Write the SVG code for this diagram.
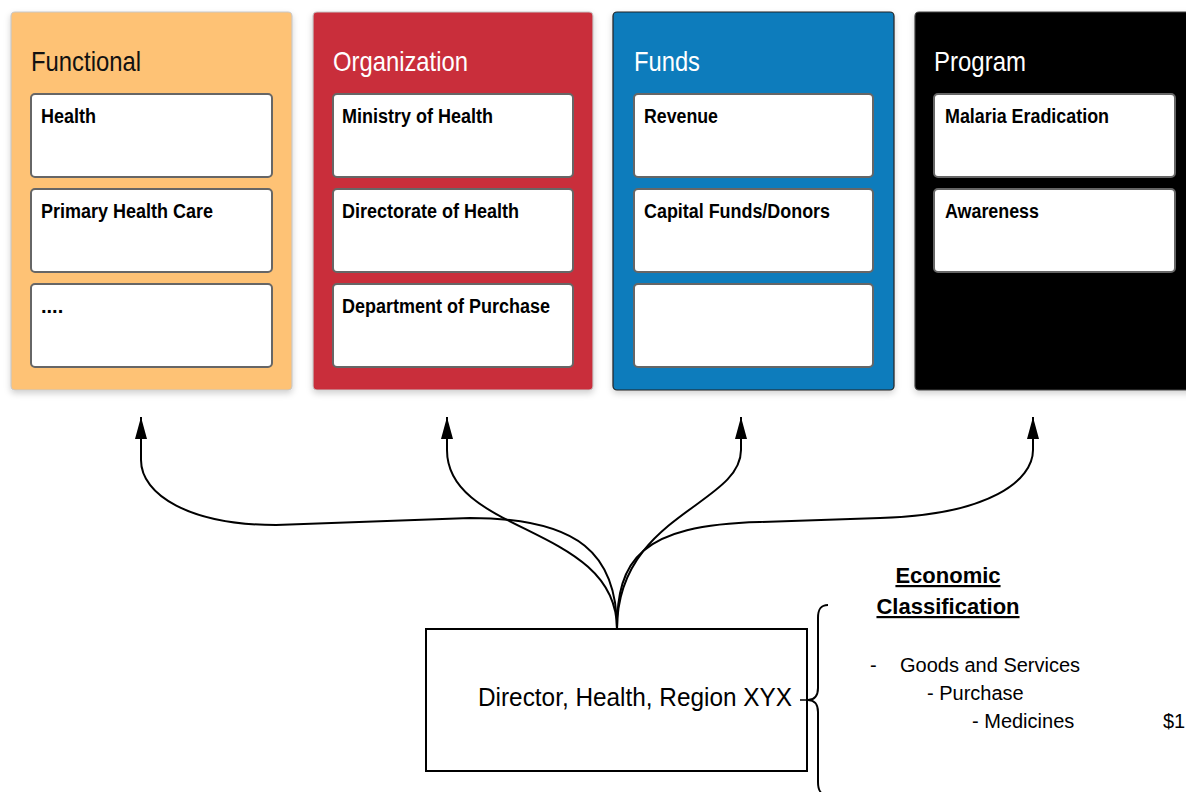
<svg xmlns="http://www.w3.org/2000/svg" width="1186" height="792" viewBox="0 0 1186 792">
<defs>
<style>
.panel{stroke-width:1.2}
.title{font-family:"Liberation Sans",Arial,sans-serif;font-size:28px}
.card{fill:#fff;stroke:#666;stroke-width:2}
.lbl{font-family:"Liberation Sans",Arial,sans-serif;font-size:20px;font-weight:bold;fill:#000}
.conn{fill:none;stroke:#000;stroke-width:2}
.txt{font-family:"Liberation Sans",Arial,sans-serif;font-size:20px;fill:#000}
</style>
<filter id="sh" x="-10%" y="-10%" width="120%" height="120%">
<feDropShadow dx="0" dy="3" stdDeviation="3" flood-color="#000" flood-opacity="0.18"/>
</filter>
<marker id="arr" viewBox="0 0 22 12" refX="22" refY="6" markerWidth="22" markerHeight="12" markerUnits="userSpaceOnUse" orient="auto">
<path d="M0,0 L22,6 L0,12 z" fill="#000"/>
</marker>
</defs>
<rect width="1186" height="792" fill="#fff"/>

<g id="functional">
<rect class="panel" x="11" y="12" width="281" height="378" rx="4" fill="#FEC274" stroke="#c8c8c8" filter="url(#sh)"/>
<text class="title" x="31" y="71" fill="#111" textLength="110" lengthAdjust="spacingAndGlyphs">Functional</text>
<rect class="card" x="31" y="94" width="241" height="83" rx="4"/>
<text class="lbl" x="41" y="123" textLength="55" lengthAdjust="spacingAndGlyphs">Health</text>
<rect class="card" x="31" y="189" width="241" height="83" rx="4"/>
<text class="lbl" x="41" y="218" textLength="172" lengthAdjust="spacingAndGlyphs">Primary Health Care</text>
<rect class="card" x="31" y="284" width="241" height="83" rx="4"/>
<text class="lbl" x="41" y="313">....</text>
</g>

<g id="organization">
<rect class="panel" x="313" y="12" width="280" height="378" rx="4" fill="#C92D3B" stroke="#c8c8c8" filter="url(#sh)"/>
<text class="title" x="333" y="71" fill="#fff" textLength="135" lengthAdjust="spacingAndGlyphs">Organization</text>
<rect class="card" x="333" y="94" width="240" height="83" rx="4"/>
<text class="lbl" x="342" y="123" textLength="151" lengthAdjust="spacingAndGlyphs">Ministry of Health</text>
<rect class="card" x="333" y="189" width="240" height="83" rx="4"/>
<text class="lbl" x="342" y="218" textLength="177" lengthAdjust="spacingAndGlyphs">Directorate of Health</text>
<rect class="card" x="333" y="284" width="240" height="83" rx="4"/>
<text class="lbl" x="342" y="313" textLength="208" lengthAdjust="spacingAndGlyphs">Department of Purchase</text>
</g>

<g id="funds">
<rect class="panel" x="613" y="12" width="281" height="378" rx="4" fill="#107CBC" stroke="#222" filter="url(#sh)"/>
<text class="title" x="634" y="71" fill="#fff" textLength="66" lengthAdjust="spacingAndGlyphs">Funds</text>
<rect class="card" x="634" y="94" width="239" height="83" rx="4"/>
<text class="lbl" x="644" y="123" textLength="74" lengthAdjust="spacingAndGlyphs">Revenue</text>
<rect class="card" x="634" y="189" width="239" height="83" rx="4"/>
<text class="lbl" x="644" y="218" textLength="186" lengthAdjust="spacingAndGlyphs">Capital Funds/Donors</text>
<rect class="card" x="634" y="284" width="239" height="83" rx="4"/>
</g>

<g id="program">
<rect class="panel" x="915" y="12" width="290" height="378" rx="4" fill="#000" stroke="#444" filter="url(#sh)"/>
<text class="title" x="934" y="71" fill="#fff" textLength="92" lengthAdjust="spacingAndGlyphs">Program</text>
<rect class="card" x="934" y="94" width="241" height="83" rx="4"/>
<text class="lbl" x="945" y="123" textLength="164" lengthAdjust="spacingAndGlyphs">Malaria Eradication</text>
<rect class="card" x="934" y="189" width="241" height="83" rx="4"/>
<text class="lbl" x="945" y="218" textLength="94" lengthAdjust="spacingAndGlyphs">Awareness</text>
</g>

<g id="connectors">
<path class="conn" marker-end="url(#arr)" d="M617,629 C617,555 580,518 470,518 L276,525 C190,525 141,495 141,460 L141,417"/>
<path class="conn" marker-end="url(#arr)" d="M617,629 C617,525 447,535 447,450 L447,417"/>
<path class="conn" marker-end="url(#arr)" d="M617,629 C617,515 741,505 741,450 L741,417"/>
<path class="conn" marker-end="url(#arr)" d="M617,629 C617,560 640,525 760,522 L880,518 C990,515 1033,480 1033,450 L1033,417"/>
</g>

<g id="director">
<rect x="426" y="629" width="381" height="142" fill="#fff" stroke="#000" stroke-width="2"/>
<text x="478" y="706" font-family="Liberation Sans, Arial, sans-serif" font-size="26" fill="#000" textLength="314" lengthAdjust="spacingAndGlyphs">Director, Health, Region XYX</text>
</g>

<g id="brace">
<path d="M800,700 L808,700" fill="none" stroke="#000" stroke-width="1.5"/>
<path d="M828,605 C820,605 818,610 818,618 L818,688 C818,696 814,700 808,700 C814,700 818,704 818,712 L818,782 C818,790 820,795 828,795" fill="none" stroke="#000" stroke-width="2"/>
</g>

<g id="economic">
<text x="948" y="583" text-anchor="middle" font-family="Liberation Sans, Arial, sans-serif" font-size="22" font-weight="bold" text-decoration="underline" fill="#000">Economic</text>
<text x="948" y="614" text-anchor="middle" font-family="Liberation Sans, Arial, sans-serif" font-size="22" font-weight="bold" text-decoration="underline" fill="#000">Classification</text>
<text class="txt" x="870" y="672">-</text>
<text class="txt" x="900" y="672">Goods and Services</text>
<text class="txt" x="927" y="700">- Purchase</text>
<text class="txt" x="972" y="728">- Medicines</text>
<text class="txt" x="1163" y="728">$1</text>
</g>
</svg>
